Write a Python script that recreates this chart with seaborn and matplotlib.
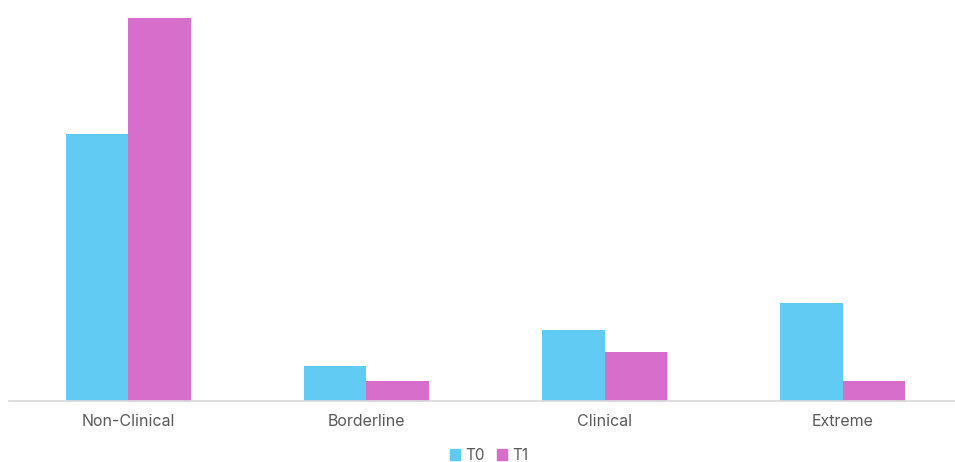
import pandas as pd
import seaborn as sns
import matplotlib.pyplot as plt

# data (percent of participants per category)
categories = ['Non-Clinical', 'Borderline', 'Clinical', 'Extreme']
t0_values = [56.6, 7.5, 15.1, 20.8]
t1_values = [81.25, 4.17, 10.42, 4.17]
series = ['T0', 'T1']

df = pd.DataFrame({
    'category': categories * 2,
    'value': t0_values + t1_values,
    'time': ['T0'] * len(categories) + ['T1'] * len(categories),
})

sns.set_theme(style='white')
plt.rcParams['font.family'] = ['Inter', 'DejaVu Sans']

fig = plt.figure(figsize=(9.55, 4.62), dpi=100)
ax = fig.add_axes([9 / 955, 1 - 401 / 462, 953 / 955, 401 / 462])

sns.barplot(data=df, x='category', y='value', hue='time', hue_order=series,
            palette=['#61CBF4', '#D86ECC'], width=0.525, saturation=1,
            edgecolor='none', ax=ax, legend=False)

ax.set_ylim(0, 85.06)
ax.set_xlim(-0.5, 3.5)
ax.set_xlabel('')
ax.set_ylabel('')
ax.set_yticks([])
for s in ['top', 'right', 'left']:
    ax.spines[s].set_visible(False)
ax.spines['bottom'].set_color('#D9D9D9')
ax.spines['bottom'].set_linewidth(1.2)
ax.tick_params(axis='x', length=0, pad=9, labelsize=11.5, labelcolor='#595959')

handles = [plt.Rectangle((0, 0), 1, 1, color=c) for c in ['#61CBF4', '#D86ECC']]
fig.legend(handles, series, loc='center', bbox_to_anchor=(489 / 955, 1 - 455 / 462),
           ncol=2, frameon=False, handlelength=0.7, handleheight=0.7,
           handletextpad=0.3, columnspacing=0.8, labelcolor='#595959', fontsize=11,
           borderpad=0.1)

fig.savefig('out.png', dpi=100)
